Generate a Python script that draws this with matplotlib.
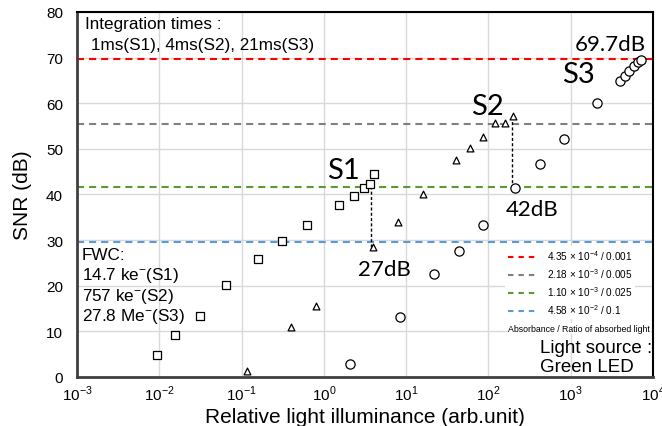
import numpy as np
import matplotlib.pyplot as plt
from matplotlib.lines import Line2D

# S1 (squares), S2 (triangles), S3 (circles)
s1_x = [0.0094, 0.0157, 0.0312, 0.0645, 0.157, 0.313, 0.628, 1.52, 2.34, 3.1, 3.63, 4.08]
s1_y = [4.9, 9.1, 13.4, 20.1, 25.9, 29.8, 33.3, 37.7, 39.7, 41.4, 42.3, 44.5]
s2_x = [0.117, 0.398, 0.794, 3.98, 7.88, 16.1, 40.3, 60.0, 86.5, 121, 158, 200]
s2_y = [1.25, 11.0, 15.6, 28.4, 33.9, 40.0, 47.6, 50.2, 52.7, 55.6, 55.6, 57.1]
s3_x = [2.08, 8.4, 21.9, 43.4, 85.7, 208, 422, 834, 2065, 3960, 4560, 5140, 5860, 6610, 7070]
s3_y = [2.85, 13.1, 22.5, 27.7, 33.4, 41.4, 46.7, 52.2, 60.0, 64.9, 66.0, 67.1, 68.2, 69.0, 69.5]

# max SNR levels
levels = [69.7, 55.5, 41.6, 29.5]
level_colors = ['#FF0000', '#808080', '#5A9A2E', '#5B9BD5']
level_labels = [r'4.35 $\times$ 10$^{-4}$ / 0.001', r'2.18 $\times$ 10$^{-3}$ / 0.005',
                r'1.10 $\times$ 10$^{-3}$ / 0.025', r'4.58 $\times$ 10$^{-2}$ / 0.1']
fwc_lines = ['FWC:', '14.7 ke$^{-}$(S1)', '757 ke$^{-}$(S2)', '27.8 Me$^{-}$(S3)']
fwc_y = [25.9, 21.5, 16.9, 12.4]

plt.rcParams['font.family'] = ['Liberation Sans', 'DejaVu Sans']
plt.rcParams['mathtext.fontset'] = 'custom'
plt.rcParams['mathtext.rm'] = 'Liberation Sans'

fig = plt.figure(figsize=(6.62, 4.27), dpi=100)
ax = fig.add_axes([0.1163, 0.1148, 0.8701, 0.8548])

ax.set_xscale('log')
ax.set_xlim(1e-3, 1e4)
ax.set_ylim(0, 80)
ax.set_yticks(range(0, 81, 10))
ax.set_xticks([1e-3, 1e-2, 1e-1, 1e0, 1e1, 1e2, 1e3, 1e4])
ax.set_xticklabels([r'10$^{%d}$' % e for e in range(-3, 5)])
ax.minorticks_off()
ax.grid(True, color='#D9D9D9', lw=1)
ax.set_axisbelow(True)
ax.tick_params(length=0, labelsize=11)
ax.tick_params(axis='y', pad=10)
ax.tick_params(axis='x', pad=5)

for s in ['left', 'bottom']:
    ax.spines[s].set_color('#404040')
    ax.spines[s].set_linewidth(2)
for s in ['top', 'right']:
    ax.spines[s].set_color('black')
    ax.spines[s].set_linewidth(1.5)

handles = []
for lv, c, lab in zip(levels, level_colors, level_labels):
    ax.axhline(lv, color=c, lw=1.5, dashes=(3.4, 2.4), zorder=1.5)
    handles.append(Line2D([], [], color=c, lw=1.5, dashes=(2.6, 2.4), label=lab))

ax.scatter(s1_x, s1_y, marker='s', s=33, facecolors='white', edgecolors='black', linewidths=0.9, zorder=3)
ax.scatter(s2_x, s2_y, marker='^', s=24, facecolors='white', edgecolors='black', linewidths=0.9, zorder=3)
ax.scatter(s3_x, s3_y, marker='o', s=44, facecolors='white', edgecolors='black', linewidths=0.9, zorder=3)

# dynamic range markers
ax.plot([3.7, 3.7], [s2_y[3], s1_y[10]], color='black', lw=1, dashes=(2.2, 1.6), zorder=2)
ax.plot([196, 196], [s3_y[5], s2_y[11]], color='black', lw=1, dashes=(2.2, 1.6), zorder=2)

ax.set_xlabel('Relative light illuminance (arb.unit)', fontsize=15, labelpad=3,
              family=['Liberation Sans Narrow', 'Liberation Sans'])
ax.set_ylabel('SNR (dB)', fontsize=15, labelpad=10)

big = dict(family=['Lato', 'DejaVu Sans'], color='black', va='baseline')
ax.text(1.09, 43.6, 'S1', fontsize=21, **big)
ax.text(62, 57.6, 'S2', fontsize=21, **big)
ax.text(774, 64.7, 'S3', fontsize=21, **big)
ax.text(3000, 71.7, '69.7dB', fontsize=16, ha='center', **big)
ax.text(338, 35.4, '42dB', fontsize=16, ha='center', **big)
ax.text(5.5, 22.4, '27dB', fontsize=16, ha='center', **big)

ax.text(0.00125, 76.4, 'Integration times :', fontsize=12.3, va='baseline')
ax.text(0.00148, 71.9, '1ms(S1), 4ms(S2), 21ms(S3)', fontsize=12.3, va='baseline')
for t, yy in zip(fwc_lines, fwc_y):
    ax.text(0.00114, yy, t, fontsize=12.3, va='baseline')

leg = ax.legend(handles=handles, loc='upper right', bbox_to_anchor=(0.969, 0.36),
                fontsize=7.2, frameon=True, facecolor='white', edgecolor='none', framealpha=1,
                handlelength=2.9, handletextpad=1.0, labelspacing=0.42, borderpad=0.3,
                borderaxespad=0)
ax.text(0.995, 0.133, 'Absorbance / Ratio of absorbed light', transform=ax.transAxes,
        fontsize=6.3, ha='right', va='center', zorder=6,
        bbox=dict(facecolor='white', edgecolor='none', pad=0.5))
ax.text(0.804, 0.005, 'Light source :\nGreen LED', transform=ax.transAxes,
        fontsize=13.5, ha='left', va='bottom', linespacing=1.2)

fig.savefig('out.png', dpi=100)
